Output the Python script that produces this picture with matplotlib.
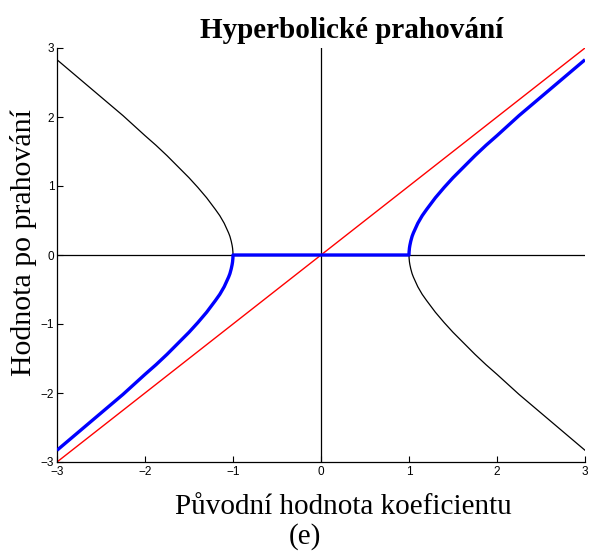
import matplotlib
matplotlib.use("Agg")
import matplotlib.pyplot as plt
import numpy as np

# values (right branch, |y| vs x)
branch_x = [1.0, 1.001, 1.005, 1.01, 1.02, 1.035, 1.05, 1.075, 1.1, 1.15, 1.2, 1.3, 1.4, 1.5,
            1.625, 1.75, 1.875, 2.0, 2.25, 2.5, 2.75, 3.0]
branch_y = [0.0, 0.045, 0.10, 0.14, 0.20, 0.27, 0.32, 0.39, 0.46, 0.57, 0.66, 0.83, 0.98, 1.12,
            1.28, 1.44, 1.59, 1.73, 2.02, 2.29, 2.56, 2.83]
ident_x = [-3, 3]
ident_y = [-3, 3]
xticks = [-3, -2, -1, 0, 1, 2, 3]
yticks = [-3, -2, -1, 0, 1, 2, 3]

bx = np.array(branch_x)
by = np.array(branch_y)

fig = plt.figure(figsize=(5.9, 5.52), dpi=100)
ax = fig.add_axes([57/590, 1-462/552, (585-57)/590, (462-48)/552])

# zero axes
ax.plot([-3, 3], [0, 0], color="black", lw=0.9, zorder=1)
ax.plot([0, 0], [-3, 3], color="black", lw=0.9, zorder=1)
# identity
ax.plot(ident_x, ident_y, color="red", lw=1.0, zorder=2)
# black hyperbola parts
ax.plot(-bx, by, color="black", lw=0.9, zorder=3)
ax.plot(bx, -by, color="black", lw=0.9, zorder=3)
# blue thresholding curve
blue_x = np.concatenate([-bx[::-1], bx])
blue_y = np.concatenate([-by[::-1], by])
ax.plot(blue_x, blue_y, color="blue", lw=2.4, zorder=4, solid_capstyle="butt",
        solid_joinstyle="round")

ax.set_xlim(-3, 3)
ax.set_ylim(-3, 3)
ax.set_xticks(xticks)
ax.set_yticks(yticks)
ax.set_xticklabels(["\u2212%d" % -t if t < 0 else str(t) for t in xticks])
ax.set_yticklabels(["\u2212%d" % -t if t < 0 else str(t) for t in yticks])
for s in ["top", "right"]:
    ax.spines[s].set_visible(False)
for s in ["left", "bottom"]:
    ax.spines[s].set_linewidth(0.9)
ax.tick_params(direction="in", length=4, width=0.8, labelsize=8.5)
ax.tick_params(axis="y", pad=2)
ax.tick_params(axis="x", pad=3)
for lab in ax.get_xticklabels() + ax.get_yticklabels():
    lab.set_fontfamily("Liberation Sans")

fig.text(352/590, 1-30/552, "Hyperbolické prahování", family="Liberation Serif",
         fontweight="bold", fontsize=21, ha="center", va="center")
fig.text(343/590, 1-507/552, "Původní hodnota koeficientu", family="Liberation Serif",
         fontsize=21, ha="center", va="center")
fig.text(305/590, 1-537/552, "(e)", family="Liberation Serif",
         fontsize=21, ha="center", va="center")
fig.text(24/590, 1-242/552, "Hodnota po prahování", family="Liberation Serif",
         fontsize=21.5, ha="center", va="center", rotation=90)

fig.savefig("out.png", dpi=100)
